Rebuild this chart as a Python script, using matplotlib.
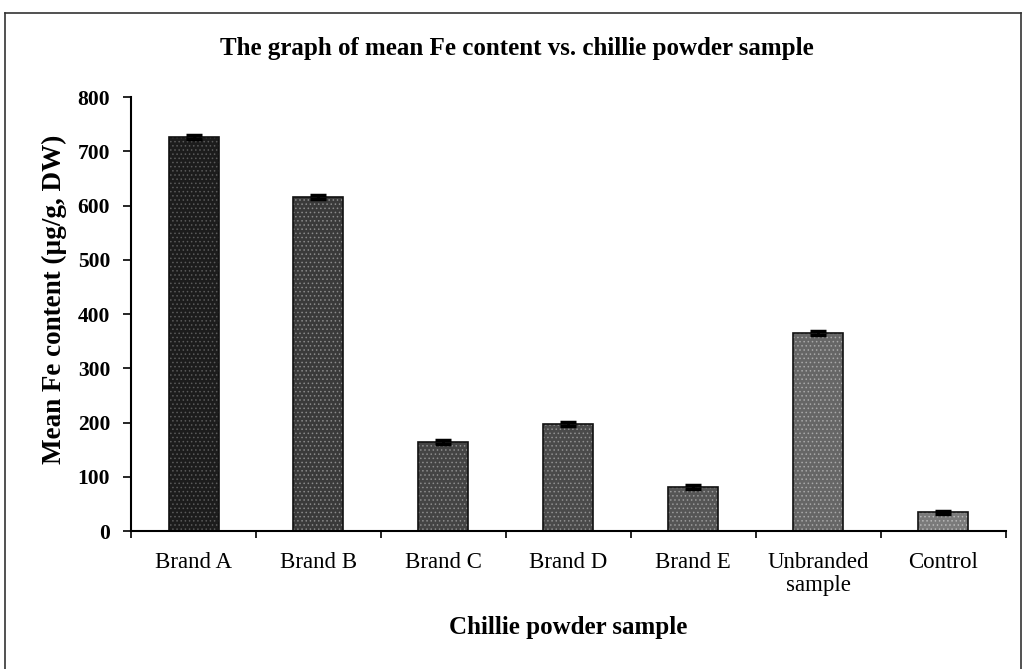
import matplotlib
matplotlib.use("Agg")
import matplotlib.pyplot as plt
from matplotlib.lines import Line2D

plt.rcParams['font.family'] = ['Liberation Serif', 'DejaVu Serif']
plt.rcParams['hatch.linewidth'] = 0.6

samples = ["Brand A", "Brand B", "Brand C", "Brand D", "Brand E", "Unbranded\nsample", "Control"]
mean_fe = [726, 616, 164, 197, 82, 365, 35]
err = [4, 4, 4, 4, 4, 4, 3]
bar_colors = ["#1c1c1c", "#3a3a3a", "#444444", "#4a4a4a", "#555555", "#666666", "#7a7a7a"]
speckle = ["#5a5a5a", "#8a8a8a", "#8c8c8c", "#909090", "#9a9a9a", "#a8a8a8", "#b8b8b8"]

fig = plt.figure(figsize=(10.24, 6.69), dpi=100)
ax = fig.add_axes([0.128, 0.206, 0.854, 0.649])

x = list(range(len(samples)))
# speckled fill, then outline + error bars on top
ax.bar(x, mean_fe, width=0.4, color=bar_colors, edgecolor=speckle, linewidth=0, hatch="....")
ax.bar(x, mean_fe, width=0.4, facecolor="none", edgecolor="#111111", linewidth=1.2,
       yerr=err, error_kw=dict(ecolor="black", elinewidth=2, capsize=6, capthick=2.5))

ax.set_xlim(-0.5, len(samples) - 0.5)
ax.set_ylim(0, 800)
ax.set_yticks(range(0, 801, 100))
ax.set_xticks(x)
ax.set_xticklabels(samples, fontsize=16.5, linespacing=1.15)
ax.set_xticks([i - 0.5 for i in range(len(samples) + 1)], minor=True)
ax.tick_params(axis="x", which="major", length=0, pad=15)
ax.tick_params(axis="x", which="minor", length=5, width=1.2, direction="out")
ax.tick_params(axis="y", labelsize=15.5, length=6, width=1.2, direction="out", pad=9)
for lab in ax.get_yticklabels():
    lab.set_fontweight("bold")

ax.spines["top"].set_visible(False)
ax.spines["right"].set_visible(False)
ax.spines["left"].set_linewidth(1.5)
ax.spines["bottom"].set_linewidth(1.5)

ax.set_ylabel("Mean Fe content (\u00b5g/g, DW)", fontsize=19.5, fontweight="bold")
ax.yaxis.set_label_coords(-0.073, 0.535)
ax.set_xlabel("Chillie powder sample", fontsize=18, fontweight="bold", labelpad=14)
fig.text(0.505, 0.928, "The graph of mean Fe content vs. chillie powder sample",
         ha="center", va="center", fontsize=18, fontweight="bold")

# outer frame (bottom edge cut off in original)
fr = dict(color="#333333", linewidth=1.2, transform=fig.transFigure)
fig.add_artist(Line2D([0.005, 0.005], [0.0, 0.98], **fr))
fig.add_artist(Line2D([0.005, 0.997], [0.98, 0.98], **fr))
fig.add_artist(Line2D([0.997, 0.997], [0.0, 0.98], **fr))

fig.savefig("out.png", dpi=100)
